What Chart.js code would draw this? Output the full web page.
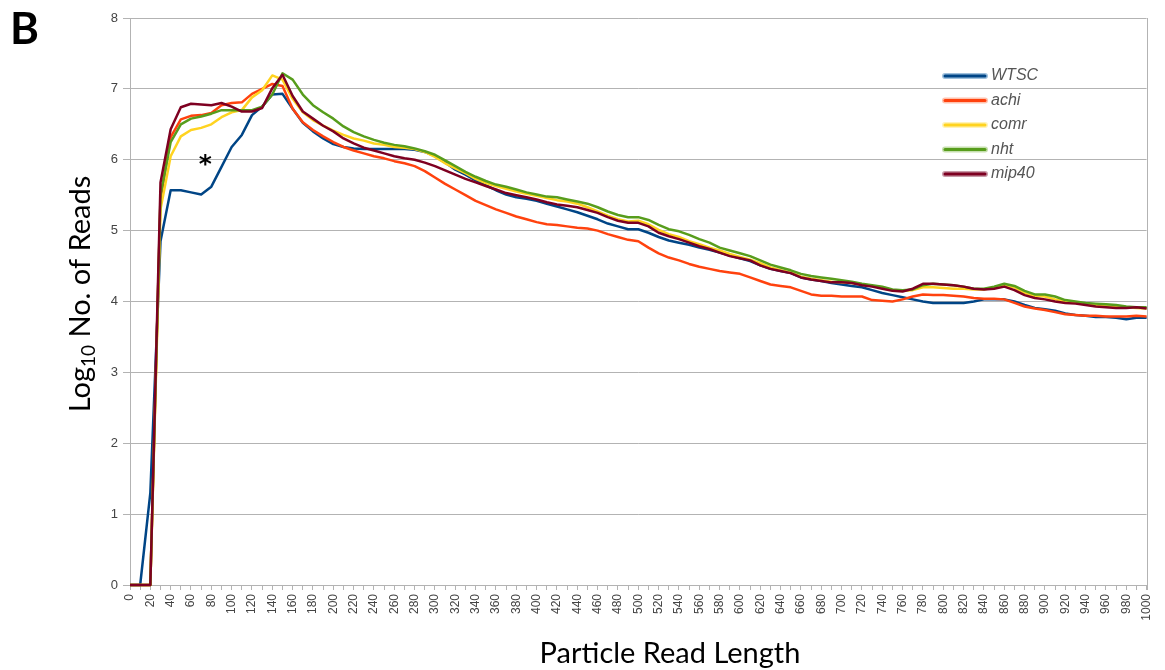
<!DOCTYPE html>
<html>
<head>
<meta charset="utf-8">
<script src="https://cdn.jsdelivr.net/npm/chart.js@4.4.0/dist/chart.umd.min.js"></script>
<style>
  html, body { margin: 0; padding: 0; background: #fff; }
</style>
</head>
<body>
<canvas id="readChart" width="1165" height="670"></canvas>
<script>
// read length bins (nt)
const readLengths = [
  0, 10, 20, 30, 40, 50, 60, 70, 80, 90,
  100, 110, 120, 130, 140, 150, 160, 170, 180, 190,
  200, 210, 220, 230, 240, 250, 260, 270, 280, 290,
  300, 310, 320, 330, 340, 350, 360, 370, 380, 390,
  400, 410, 420, 430, 440, 450, 460, 470, 480, 490,
  500, 510, 520, 530, 540, 550, 560, 570, 580, 590,
  600, 610, 620, 630, 640, 650, 660, 670, 680, 690,
  700, 710, 720, 730, 740, 750, 760, 770, 780, 790,
  800, 810, 820, 830, 840, 850, 860, 870, 880, 890,
  900, 910, 920, 930, 940, 950, 960, 970, 980, 990,
  1000
];

// log10 read counts per bin
const wtsc = [
  0, 0, 1.3, 4.85, 5.57, 5.57, 5.54, 5.51, 5.62, 5.9,
  6.18, 6.35, 6.63, 6.75, 6.92, 6.93, 6.72, 6.52, 6.4, 6.3,
  6.22, 6.18, 6.16, 6.15, 6.15, 6.15, 6.15, 6.15, 6.14, 6.11,
  6.05, 5.96, 5.86, 5.79, 5.71, 5.64, 5.57, 5.51, 5.47, 5.45,
  5.42, 5.38, 5.34, 5.3, 5.26, 5.21, 5.16, 5.1, 5.06, 5.02,
  5.02, 4.97, 4.91, 4.86, 4.83, 4.8, 4.76, 4.73, 4.69, 4.65,
  4.61, 4.57, 4.51, 4.46, 4.43, 4.4, 4.34, 4.31, 4.29, 4.26,
  4.24, 4.22, 4.2, 4.16, 4.12, 4.09, 4.06, 4.03, 4.0, 3.98,
  3.98, 3.98, 3.98, 4.0, 4.03, 4.03, 4.03, 4.0, 3.95, 3.91,
  3.89, 3.87, 3.83, 3.81, 3.8, 3.78, 3.78, 3.77, 3.75, 3.77,
  3.77
];
const achi = [
  0, 0, 0, 5.45, 6.32, 6.57, 6.62, 6.63, 6.66, 6.77,
  6.8, 6.81, 6.93, 7.0, 7.07, 7.04, 6.72, 6.53, 6.42, 6.33,
  6.25, 6.18, 6.13, 6.09, 6.05, 6.02, 5.98, 5.95, 5.91, 5.84,
  5.75, 5.66, 5.58, 5.5, 5.42, 5.36, 5.3, 5.25, 5.2, 5.16,
  5.12, 5.09, 5.08, 5.06, 5.04, 5.03, 5.0, 4.95, 4.91, 4.87,
  4.85, 4.76, 4.68, 4.62, 4.58, 4.53, 4.49, 4.46, 4.43, 4.41,
  4.39, 4.34, 4.29, 4.24, 4.22, 4.2, 4.15, 4.1, 4.08, 4.08,
  4.07, 4.07, 4.07, 4.02, 4.01, 4.0, 4.03, 4.07, 4.1, 4.09,
  4.09, 4.08, 4.07, 4.05, 4.04, 4.04, 4.03, 3.98, 3.93, 3.9,
  3.88, 3.85, 3.82, 3.81, 3.8, 3.8, 3.79, 3.79, 3.79, 3.8,
  3.79
];
const comr = [
  0, 0, 0, 5.3, 6.05, 6.33, 6.42, 6.45, 6.5, 6.6,
  6.67, 6.7, 6.88, 6.98, 7.19, 7.13, 6.86, 6.67, 6.56, 6.48,
  6.41, 6.35, 6.3, 6.27, 6.23, 6.21, 6.18, 6.17, 6.15, 6.11,
  6.04, 5.95, 5.88, 5.81, 5.73, 5.67, 5.63, 5.59, 5.55, 5.52,
  5.49, 5.46, 5.43, 5.41, 5.38, 5.33, 5.27, 5.21, 5.16, 5.13,
  5.14, 5.09, 5.01, 4.95, 4.91, 4.85, 4.81, 4.76, 4.72, 4.67,
  4.63, 4.59, 4.54, 4.48, 4.44, 4.41, 4.35, 4.32, 4.3, 4.28,
  4.27, 4.26, 4.24, 4.22, 4.2, 4.16, 4.15, 4.16, 4.2, 4.2,
  4.19, 4.18, 4.18, 4.17, 4.17, 4.2, 4.23, 4.2, 4.12, 4.08,
  4.07, 4.03, 4.0, 3.99, 3.96, 3.95, 3.94, 3.92, 3.92, 3.91,
  3.9
];
const nht = [
  0, 0, 0, 5.5, 6.25, 6.5, 6.58, 6.61, 6.65, 6.7,
  6.7, 6.7, 6.7, 6.75, 6.92, 7.22, 7.13, 6.92, 6.77, 6.67,
  6.58, 6.47, 6.39, 6.33, 6.28, 6.24, 6.21, 6.19, 6.16, 6.12,
  6.07, 5.99, 5.91, 5.83, 5.76, 5.7, 5.65, 5.62, 5.58, 5.54,
  5.51, 5.48, 5.47, 5.44, 5.41, 5.38, 5.33, 5.27, 5.22, 5.19,
  5.19, 5.15, 5.08, 5.02, 4.99, 4.94, 4.88, 4.83, 4.76, 4.72,
  4.68, 4.64, 4.58, 4.52, 4.48, 4.44, 4.39, 4.36, 4.34, 4.32,
  4.3, 4.28, 4.25, 4.23, 4.21, 4.17, 4.16, 4.17, 4.23, 4.25,
  4.24, 4.23, 4.21, 4.18, 4.18, 4.21, 4.25, 4.22, 4.15, 4.1,
  4.1, 4.07, 4.02, 4.0, 3.98, 3.97, 3.96, 3.95, 3.93, 3.92,
  3.92
];
const mip40 = [
  0, 0, 0, 5.68, 6.43, 6.74, 6.79, 6.78, 6.77, 6.8,
  6.75, 6.68, 6.68, 6.73, 7.01, 7.2, 6.9, 6.68, 6.58, 6.48,
  6.4, 6.3, 6.23, 6.17, 6.13, 6.09, 6.05, 6.02, 6.0, 5.96,
  5.91, 5.85, 5.79, 5.73, 5.68, 5.63, 5.58, 5.53, 5.5, 5.47,
  5.44, 5.4, 5.37, 5.35, 5.33, 5.29, 5.25, 5.19, 5.14, 5.11,
  5.11, 5.06, 4.97, 4.92, 4.88, 4.83, 4.78, 4.74, 4.69, 4.64,
  4.61, 4.58, 4.51, 4.46, 4.43, 4.4, 4.34, 4.31, 4.29, 4.27,
  4.27, 4.26, 4.23, 4.21, 4.18, 4.15, 4.14, 4.18, 4.25, 4.25,
  4.24, 4.23, 4.21, 4.18, 4.17, 4.18, 4.21, 4.16, 4.09, 4.05,
  4.03, 4.0, 3.98, 3.97, 3.95, 3.93, 3.92, 3.91, 3.91, 3.92,
  3.9
];

const seriesNames = ['WTSC', 'achi', 'comr', 'nht', 'mip40'];
const seriesValues = [wtsc, achi, comr, nht, mip40];
const seriesColors = ['#004586', '#ff420e', '#ffd320', '#579d1c', '#7e0021'];
const seriesLight = ['#9fc0dc', '#ffc2ae', '#fff3b8', '#c6dfae', '#c89aa8'];

const yTicks = [0, 1, 2, 3, 4, 5, 6, 7, 8];

const titleFont = 'Lato, "Open Sans", sans-serif';

const datasets = seriesNames.map((name, i) => ({
  label: name,
  data: readLengths.map((len, j) => ({ x: len, y: seriesValues[i][j] })),
  borderColor: seriesColors[i],
  backgroundColor: seriesColors[i],
  borderWidth: 2.5,
  pointRadius: 0,
  tension: 0,
  borderJoinStyle: 'round',
  clip: 4,
  // last series ends up on top
  order: seriesNames.length - i
}));

// extra bits: legend block, panel letter, axis titles, asterisk, right frame
const decorations = {
  id: 'decorations',
  afterDraw(chart) {
    const ctx = chart.ctx;
    const area = chart.chartArea;
    const xs = chart.scales.x;
    const ys = chart.scales.y;
    ctx.save();

    // right frame line
    ctx.strokeStyle = '#b3b3b3';
    ctx.lineWidth = 1;
    ctx.beginPath();
    ctx.moveTo(Math.round(area.right) + 0.5, area.top);
    ctx.lineTo(Math.round(area.right) + 0.5, area.bottom + 5);
    ctx.stroke();

    // panel letter
    ctx.fillStyle = '#000';
    ctx.font = 'bold 44px ' + titleFont;
    ctx.textAlign = 'left';
    ctx.textBaseline = 'alphabetic';
    ctx.fillText('B', 10, 44);

    // x title
    ctx.font = '29px ' + titleFont;
    ctx.textAlign = 'center';
    ctx.textBaseline = 'alphabetic';
    ctx.fillText('Particle Read Length', 670, 663);

    // y title with subscript
    ctx.save();
    ctx.translate(90, 294);
    ctx.rotate(-Math.PI / 2);
    const big = '29px ' + titleFont;
    const small = '19px ' + titleFont;
    ctx.font = big;
    const wLog = ctx.measureText('Log').width;
    const wRest = ctx.measureText(' No. of Reads').width;
    ctx.font = small;
    const wSub = ctx.measureText('10').width;
    const x0 = -(wLog + wSub + wRest) / 2;
    ctx.textAlign = 'left';
    ctx.textBaseline = 'alphabetic';
    ctx.font = big;
    ctx.fillText('Log', x0, 0);
    ctx.font = small;
    ctx.fillText('10', x0 + wLog, 5);
    ctx.font = big;
    ctx.fillText(' No. of Reads', x0 + wLog + wSub, 0);
    ctx.restore();

    // asterisk over the WTSC dip
    ctx.font = 'bold 25px "DejaVu Sans", sans-serif';
    ctx.textAlign = 'center';
    ctx.textBaseline = 'alphabetic';
    const m = ctx.measureText('*');
    const ax = xs.getPixelForValue(74);
    const ay = ys.getPixelForValue(6.0);
    ctx.fillText('*', ax, ay + (m.actualBoundingBoxAscent - m.actualBoundingBoxDescent) / 2);

    // legend
    const lx0 = 945, lx1 = 985, tx = 991;
    let ly = 76;
    ctx.font = 'italic 16px "Liberation Sans", Arial, sans-serif';
    ctx.textAlign = 'left';
    ctx.textBaseline = 'middle';
    chart.data.datasets.forEach((ds, i) => {
      ctx.lineCap = 'round';
      ctx.strokeStyle = seriesLight[i];
      ctx.lineWidth = 6;
      ctx.beginPath();
      ctx.moveTo(lx0, ly);
      ctx.lineTo(lx1, ly);
      ctx.stroke();
      ctx.strokeStyle = seriesColors[i];
      ctx.lineWidth = 3;
      ctx.beginPath();
      ctx.moveTo(lx0, ly);
      ctx.lineTo(lx1, ly);
      ctx.stroke();
      ctx.fillStyle = '#555';
      ctx.fillText(ds.label, tx, ly);
      ly += 24.5;
    });

    ctx.restore();
  }
};

new Chart(document.getElementById('readChart'), {
  type: 'line',
  data: { datasets: datasets },
  options: {
    responsive: false,
    animation: false,
    devicePixelRatio: 1,
    layout: { padding: { left: 0, right: 18, top: 18, bottom: 0 } },
    plugins: {
      legend: { display: false },
      tooltip: { enabled: false }
    },
    scales: {
      x: {
        type: 'linear',
        min: 0,
        max: 1000,
        afterFit(scale) { scale.height = 85; },
        afterBuildTicks(scale) {
          scale.ticks = readLengths.map(v => ({ value: v }));
        },
        ticks: {
          autoSkip: false,
          minRotation: 90,
          maxRotation: 90,
          padding: 4,
          color: '#444',
          font: { family: '"Liberation Sans", Arial, sans-serif', size: 12 },
          callback: v => (v % 20 === 0 ? String(v) : '')
        },
        grid: {
          drawOnChartArea: false,
          drawTicks: true,
          tickLength: 5,
          color: '#b3b3b3'
        },
        border: { display: true, color: '#b3b3b3' }
      },
      y: {
        min: 0,
        max: 8,
        afterFit(scale) { scale.width = 130; },
        afterBuildTicks(scale) {
          scale.ticks = yTicks.map(v => ({ value: v }));
        },
        ticks: {
          padding: 5,
          color: '#444',
          font: { family: '"Liberation Sans", Arial, sans-serif', size: 13 }
        },
        grid: {
          color: '#b3b3b3',
          tickLength: 7,
          lineWidth: 1
        },
        border: { display: true, color: '#b3b3b3' }
      }
    }
  },
  plugins: [decorations]
});
</script>
</body>
</html>
